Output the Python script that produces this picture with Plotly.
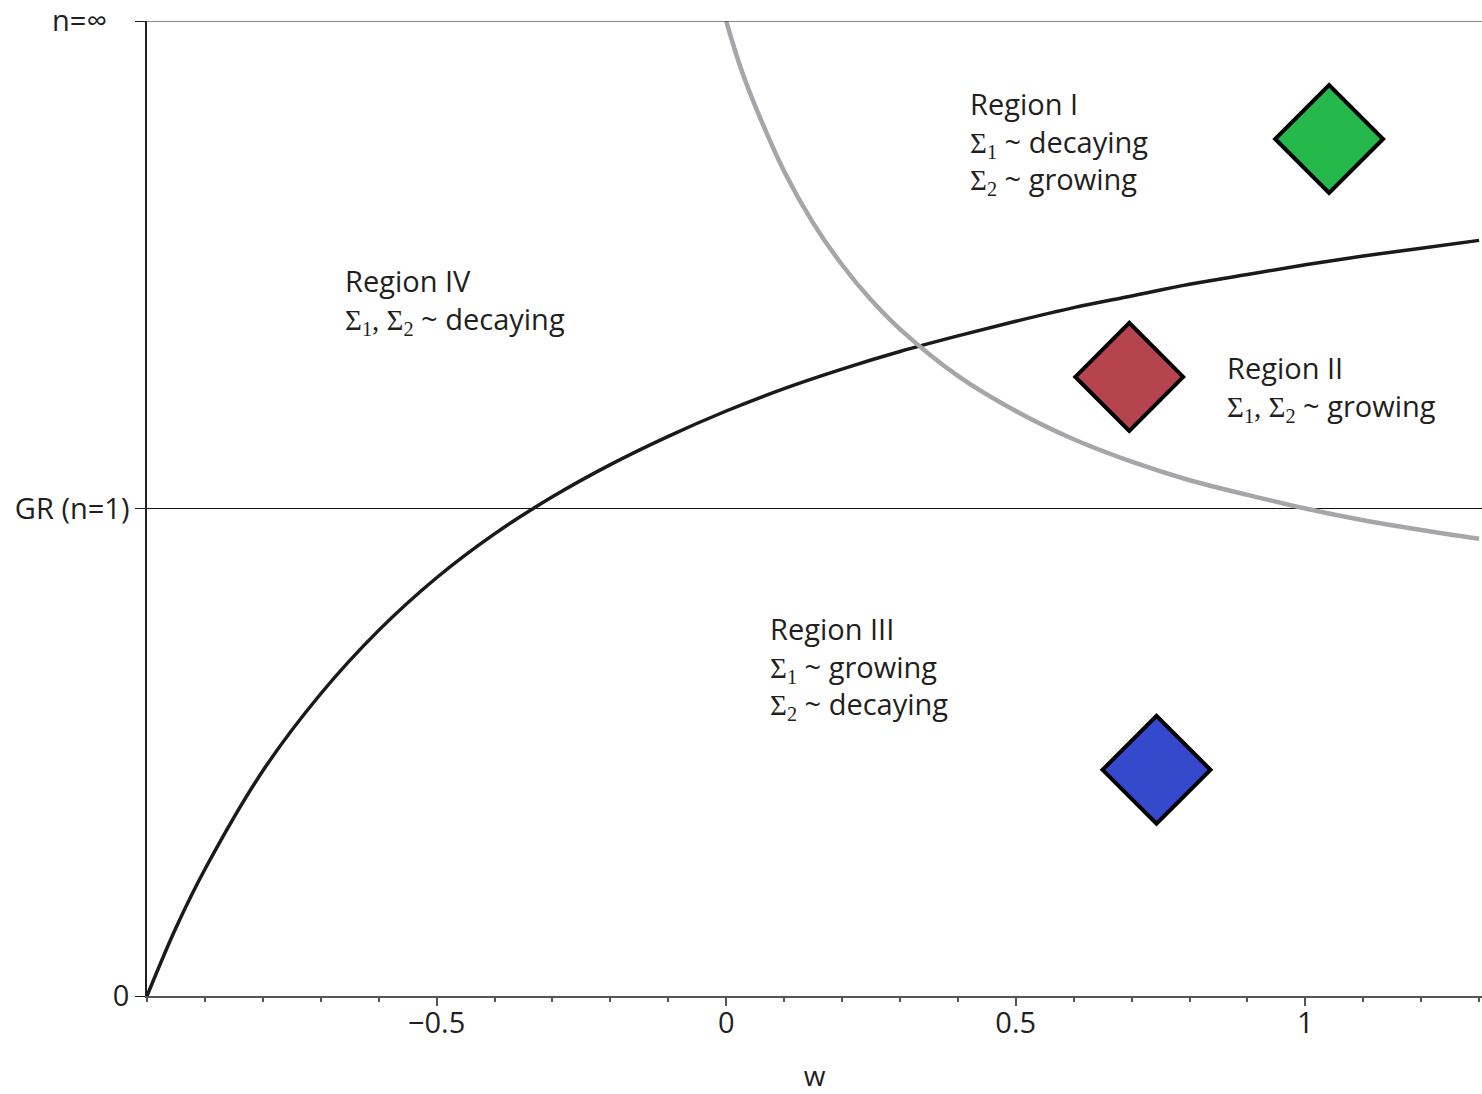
import plotly.graph_objects as go

# Boundary curves (w, compactified n -> n/(n+1))
w_black = [-1.0, -0.95, -0.9, -0.8, -0.7, -0.6, -0.5, -0.4, -0.3, -0.2, -0.1, 0.0,
           0.1, 0.2, 0.3, 0.4, 0.5, 0.6, 0.7, 0.8, 0.9, 1.0, 1.1, 1.2, 1.3]
y_black = [0.0, 0.070, 0.130, 0.231, 0.310, 0.375, 0.429, 0.474, 0.512, 0.545, 0.574, 0.600,
           0.623, 0.643, 0.661, 0.677, 0.692, 0.706, 0.718, 0.730, 0.740, 0.750, 0.759, 0.767, 0.775]

w_gray = [0.0, 0.025, 0.05, 0.1, 0.15, 0.2, 0.25, 0.3, 0.4, 0.5, 0.6, 0.7, 0.8, 0.9, 1.0, 1.1, 1.2, 1.3]
y_gray = [1.0, 0.952, 0.913, 0.846, 0.793, 0.750, 0.714, 0.684, 0.636, 0.600, 0.571, 0.548,
          0.529, 0.514, 0.500, 0.488, 0.478, 0.469]

# Diamond markers
pt_w = [1.041, 0.696, 0.743]
pt_y = [0.879, 0.635, 0.232]
pt_colors = ["#25b84a", "#b5444f", "#3449cb"]

# Axis ticks
x_tickvals = [-0.5, 0, 0.5, 1]
x_ticktext = ["\u22120.5", "0", "0.5", "1"]
y_tickvals = [0, 0.5, 1]
y_ticktext = ["0", "GR (n=1)", "n=\u221e\u00a0\u00a0\u00a0"]

# Region labels
S = '<span style="font-family:Liberation Serif">'
regions = [
    (0.417, 0.937, "Region I<br>" + S + "Σ<sub>1</sub></span> ~ decaying<br>" + S + "Σ<sub>2</sub></span> ~ growing"),
    (0.862, 0.667, "Region II<br>" + S + "Σ<sub>1</sub>, Σ<sub>2</sub></span> ~ growing"),
    (0.073, 0.399, "Region III<br>" + S + "Σ<sub>1</sub></span> ~ growing<br>" + S + "Σ<sub>2</sub></span> ~ decaying"),
    (-0.661, 0.756, "Region IV<br>" + S + "Σ<sub>1</sub>, Σ<sub>2</sub></span> ~ decaying"),
]

FONT = "Open Sans"
TXT = "#231f20"

fig = go.Figure()
fig.add_trace(go.Scatter(x=w_black, y=y_black, mode="lines", line=dict(color="#1a1a1a", width=3.5, shape="spline"),
                         hoverinfo="skip"))
fig.add_trace(go.Scatter(x=w_gray, y=y_gray, mode="lines", line=dict(color="#a6a6aa", width=4.5, shape="spline"),
                         hoverinfo="skip"))
fig.add_trace(go.Scatter(x=pt_w, y=pt_y, mode="markers",
                         marker=dict(symbol="diamond", size=83, color=pt_colors,
                                     line=dict(color="black", width=4)),
                         hoverinfo="skip"))

for x, y, t in regions:
    fig.add_annotation(x=x, y=y, xref="x", yref="y", text=t, showarrow=False,
                       xanchor="left", yanchor="top", align="left",
                       font=dict(family=FONT, size=29, color=TXT))

# top border line at n = infinity
fig.add_shape(type="line", xref="paper", yref="y", x0=0, x1=1, y0=1, y1=1,
              line=dict(color="#111", width=1.2))

fig.update_layout(
    width=1482, height=1094,
    margin=dict(l=147, r=0, t=21, b=98),
    paper_bgcolor="white", plot_bgcolor="white",
    showlegend=False,
    font=dict(family=FONT, size=29, color=TXT),
)
fig.update_xaxes(
    range=[-1, 1.305], tickvals=x_tickvals, ticktext=x_ticktext,
    automargin=False,
    showline=True, linecolor="#555", linewidth=2,
    ticks="outside", ticklen=8, tickcolor="#555", tickwidth=1.5,
    ticklabelstandoff=-8,
    minor=dict(dtick=0.1, tick0=0, ticks="outside", ticklen=4, tickcolor="#555", tickwidth=1.5, showgrid=False),
    showgrid=False, zeroline=False,
    title=dict(text="w", font=dict(family=FONT, size=28, color=TXT), standoff=45),
    tickfont=dict(family=FONT, size=29, color=TXT),
)
fig.update_yaxes(
    range=[0, 1], tickvals=y_tickvals, ticktext=y_ticktext,
    automargin=False,
    showline=True, linecolor="#222", linewidth=1.5,
    ticks="outside", ticklen=10, tickcolor="#222", tickwidth=1,
    showgrid=True, gridcolor="#111", gridwidth=1,
    zeroline=False,
    tickfont=dict(family=FONT, size=29, color=TXT),
)

fig.write_html("out.html")
